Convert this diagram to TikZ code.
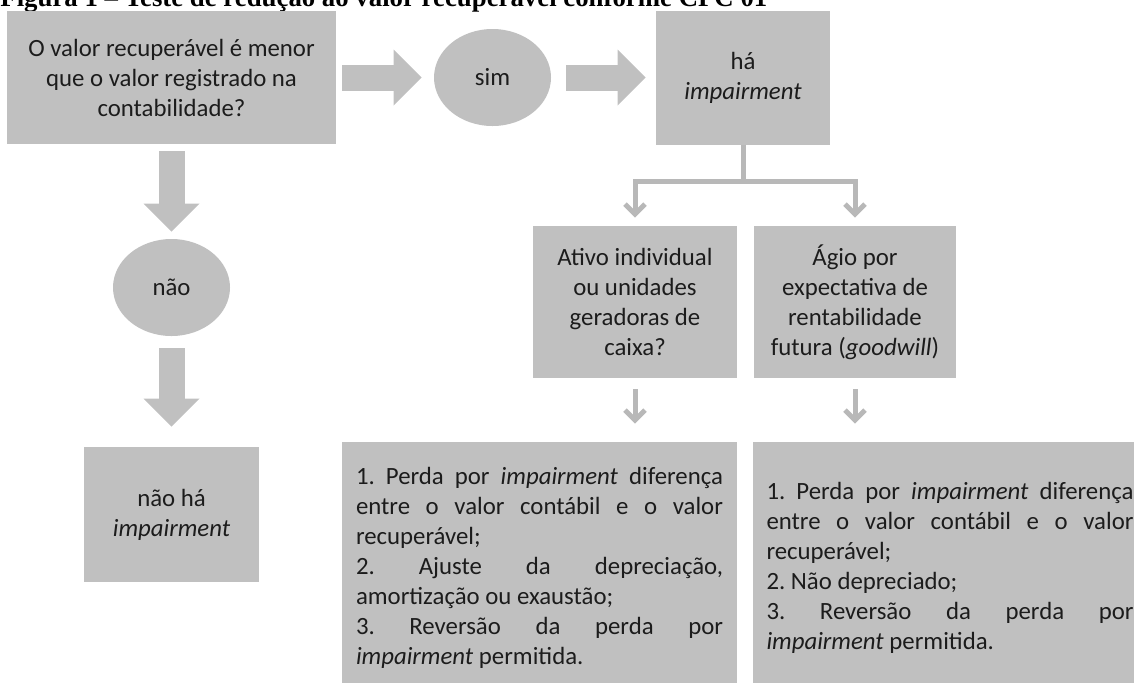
\documentclass[tikz,border=0pt]{standalone}
\usepackage{fontspec}
\setmainfont{Carlito}
\newfontfamily\titlefont{Liberation Serif}
\usetikzlibrary{arrows.meta,shapes.geometric}
\definecolor{boxgray}{RGB}{192,192,192}
\definecolor{linegray}{RGB}{184,184,184}
\definecolor{txt}{RGB}{28,28,28}
\setlength{\parindent}{0pt}
\frenchspacing
\hyphenpenalty=10000

\begin{document}
\begin{tikzpicture}[x=0.5pt,y=-0.5pt,
    every node/.style={text=txt,font=\fontsize{12.4}{15}\selectfont},
    box/.style={fill=boxgray,inner sep=0pt,align=center},
    bubble/.style={ellipse,fill=boxgray,minimum width=58.5pt,minimum height=48.5pt,inner sep=0pt},
    bigarrow/.style={boxgray,line width=13pt,-{Triangle[length=14pt,width=28pt,line width=0pt]}},
    thin/.style={linegray,line width=2.5pt},
    thinarrow/.style={thin,-{Straight Barb[length=5pt,width=10pt]}}]

  \useasboundingbox (0,0) rectangle (1134,682);

  % title
  \node[anchor=base west,inner sep=0pt,text=black,font=\titlefont\bfseries\fontsize{13.4}{15}\selectfont] (title) at (0,6) {Figura 1 – Teste de redução ao valor recuperável conforme CPC 01};

  % top row
  \node[box,minimum width=164.5pt,minimum height=66.5pt] (q) at (171.5,77.5) {O valor recuperável é menor\\que o valor registrado na\\contabilidade?};
  \node[bubble] (sim) at (492.5,77.5) {sim};
  \node[box,minimum width=87pt,minimum height=67pt] (ha) at (743,77.5) {há\\\emph{impairment}};

  \draw[bigarrow,shorten <=3pt,shorten >=6pt] (q.east) -- (sim.west);
  \draw[bigarrow,shorten <=7.5pt,shorten >=5pt] (sim.east) -- (ha.west);

  % left column
  \node[bubble] (nao) at (171.5,287.5) {não};
  \node[box,minimum width=87.5pt,minimum height=67.5pt] (naoha) at (171.5,514.5) {não há\\\emph{impairment}};

  \draw[bigarrow,shorten <=3.5pt,shorten >=3.5pt] (q.south) -- (nao.north);
  \draw[bigarrow,shorten <=6pt,shorten >=10pt] (nao.south) -- (naoha.north);

  % split
  \node[box,minimum width=102pt,minimum height=76pt] (ativo) at (635,302) {Ativo individual\\ou unidades\\geradoras de\\caixa?};
  \node[box,minimum width=101pt,minimum height=76pt] (agio) at (855,302) {Ágio por\\expectativa de\\rentabilidade\\futura (\emph{goodwill})};

  \coordinate (split) at ([yshift=-18.5pt]ha.south);
  \draw[thin] (ha.south) -- (split);
  \draw[thinarrow,shorten >=4pt] (split) -| (ativo.north);
  \draw[thinarrow,shorten >=4pt] (split) -| (agio.north);

  % consequences
  \node[box,text width=183.5pt,align=justify,inner xsep=7pt,minimum height=126pt] (perda1) at (539.5,568) {1. Perda por \emph{impairment} diferença\linebreak entre o valor contábil e o valor\linebreak recuperável;\\2. Ajuste da depreciação,\linebreak amortização ou exaustão;\\3. Reversão da perda por\linebreak \emph{impairment} permitida.};
  \node[box,text width=183.5pt,align=justify,inner xsep=7pt,minimum height=126pt] (perda2) at (950,568) {1. Perda por \emph{impairment} diferença\linebreak entre o valor contábil e o valor\linebreak recuperável;\\2. Não depreciado;\\3. Reversão da perda por\linebreak \emph{impairment} permitida.};

  \draw[thinarrow,shorten <=5.5pt,shorten >=9pt] (ativo.south) -- (ativo.south |- perda1.north);
  \draw[thinarrow,shorten <=5.5pt,shorten >=9pt] (agio.south) -- (agio.south |- perda2.north);

\end{tikzpicture}
\end{document}
